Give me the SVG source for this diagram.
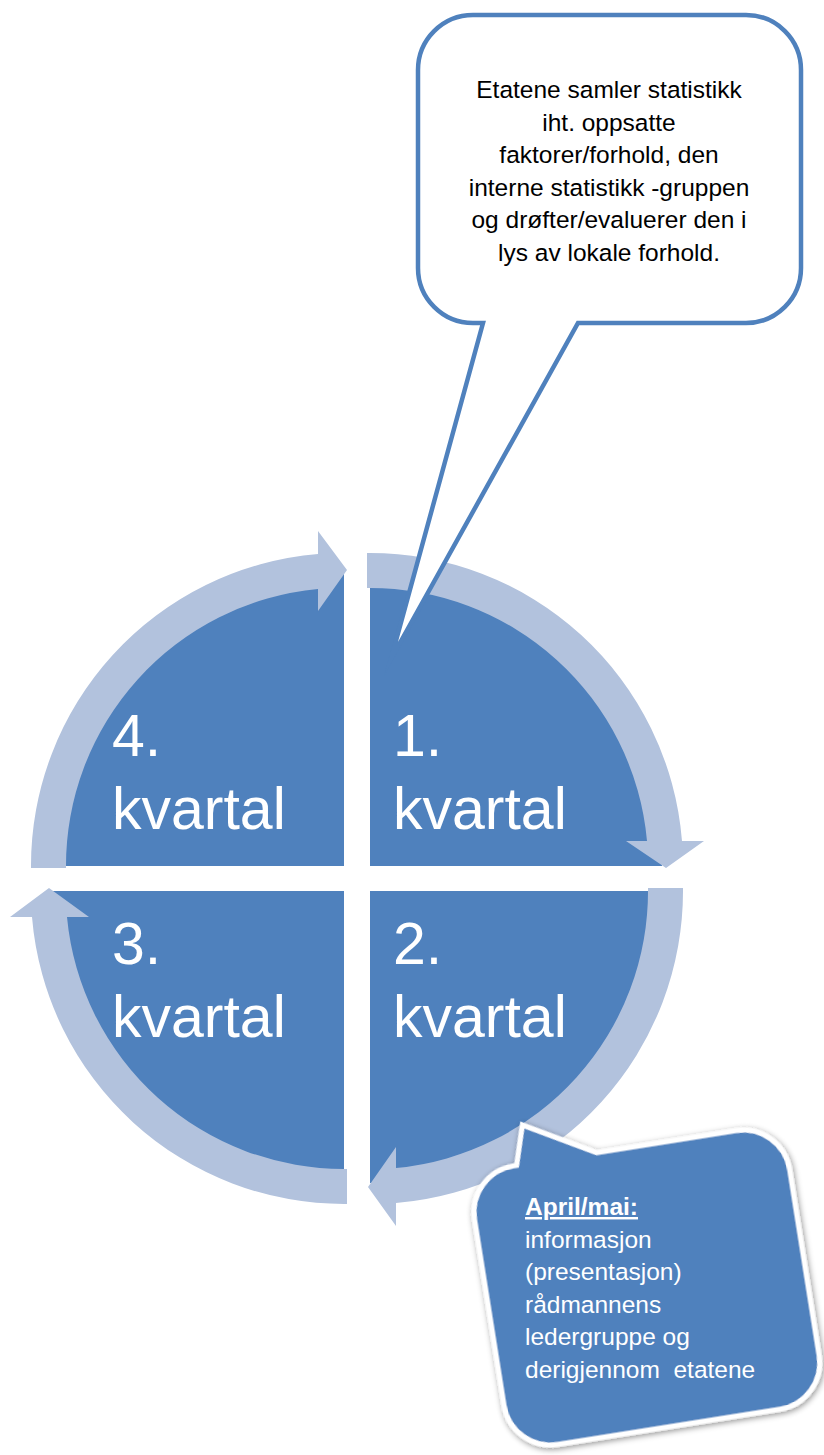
<svg xmlns="http://www.w3.org/2000/svg" width="824" height="1455" viewBox="0 0 824 1455">
<style>
.q{fill:#4F81BD}
.band{fill:#B2C2DD}
.qt{fill:#FFFFFF;font-family:"Liberation Sans",Arial,sans-serif;font-size:59px}
.ct{fill:#000000;font-family:"Liberation Sans",Arial,sans-serif;font-size:24.5px;text-anchor:middle}
.bt{fill:#FFFFFF;font-family:"Liberation Sans",Arial,sans-serif;font-size:24.5px}
</style>
<defs>
<filter id="shadow" x="-10%" y="-10%" width="120%" height="120%">
<feGaussianBlur in="SourceAlpha" stdDeviation="3"/>
<feOffset dx="1" dy="2" result="b"/>
<feComponentTransfer><feFuncA type="linear" slope="0.45"/></feComponentTransfer>
<feMerge><feMergeNode/><feMergeNode in="SourceGraphic"/></feMerge>
</filter>
</defs>
<rect width="824" height="1455" fill="#FFFFFF"/>
<g id="q4">
<path class="q" d="M344,866 L344,574 A292,292 0 0 0 52,866 Z"/>
<text class="qt" x="112" y="756">4.</text>
<text class="qt" x="112" y="829">kvartal</text>
</g>
<g id="q1">
<path class="q" d="M370,866 L370,574 A292,292 0 0 1 662,866 Z"/>
<text class="qt" x="393" y="756">1.</text>
<text class="qt" x="393" y="829">kvartal</text>
</g>
<g id="q2">
<path class="q" d="M370,891 L662,891 A292,292 0 0 1 370,1183 Z"/>
<text class="qt" x="393" y="964">2.</text>
<text class="qt" x="393" y="1037">kvartal</text>
</g>
<g id="q3">
<path class="q" d="M344,891 L344,1183 A292,292 0 0 1 52,891 Z"/>
<text class="qt" x="112" y="964">3.</text>
<text class="qt" x="112" y="1037">kvartal</text>
</g>
<g id="connectors">
<path class="band" d="M31,868 A313,313 0 0 1 318,554 L318,531 L347,570 L318,611 L318,589 A278,278 0 0 0 66,868 Z"/>
<path class="band" d="M367,553 A313,313 0 0 1 682,841 L704,841 L666,868 L626,841 L647,841 A278,278 0 0 0 367,588 Z"/>
<path class="band" d="M683,888 A313,313 0 0 1 396,1203 L396,1226 L368,1187 L396,1147 L396,1168 A278,278 0 0 0 648,888 Z"/>
<path class="band" d="M347,1204 A313,313 0 0 1 32,917 L10,917 L49,888 L89,917 L67,917 A278,278 0 0 0 347,1169 Z"/>
</g>
<g id="callout-top">
<path d="M473,15 H746 A55,55 0 0 1 801,70 V268 A55,55 0 0 1 746,323 H578 L391,659 L483,323 H473 A55,55 0 0 1 418,268 V70 A55,55 0 0 1 473,15 Z" fill="#FFFFFF" stroke="#4F81BD" stroke-width="4.5" stroke-linejoin="miter" stroke-miterlimit="20"/>
<text class="ct" x="609" y="98">Etatene samler statistikk</text>
<text class="ct" x="609" y="130.5">iht. oppsatte</text>
<text class="ct" x="609" y="163">faktorer/forhold, den</text>
<text class="ct" x="609" y="195.5">interne statistikk -gruppen</text>
<text class="ct" x="609" y="228">og drøfter/evaluerer den i</text>
<text class="ct" x="609" y="260.5">lys av lokale forhold.</text>
</g>
<g id="callout-bottom">
<path transform="rotate(-9 650 1285)" filter="url(#shadow)" d="M534,1146 L537,1146 L549,1107 L618,1146 H759 A47,47 0 0 1 806,1193 V1381 A47,47 0 0 1 759,1428 H534 A47,47 0 0 1 487,1381 V1193 A47,47 0 0 1 534,1146 Z" fill="#4F81BD" stroke="#FFFFFF" stroke-width="5"/>
<text class="bt" x="525" y="1215" font-weight="bold" text-decoration="underline">April/mai:</text>
<text class="bt" x="525" y="1247.5">informasjon</text>
<text class="bt" x="525" y="1280">(presentasjon)</text>
<text class="bt" x="525" y="1312.5">rådmannens</text>
<text class="bt" x="525" y="1345">ledergruppe og</text>
<text class="bt" x="525" y="1377.5" xml:space="preserve">derigjennom  etatene</text>
</g>
</svg>
